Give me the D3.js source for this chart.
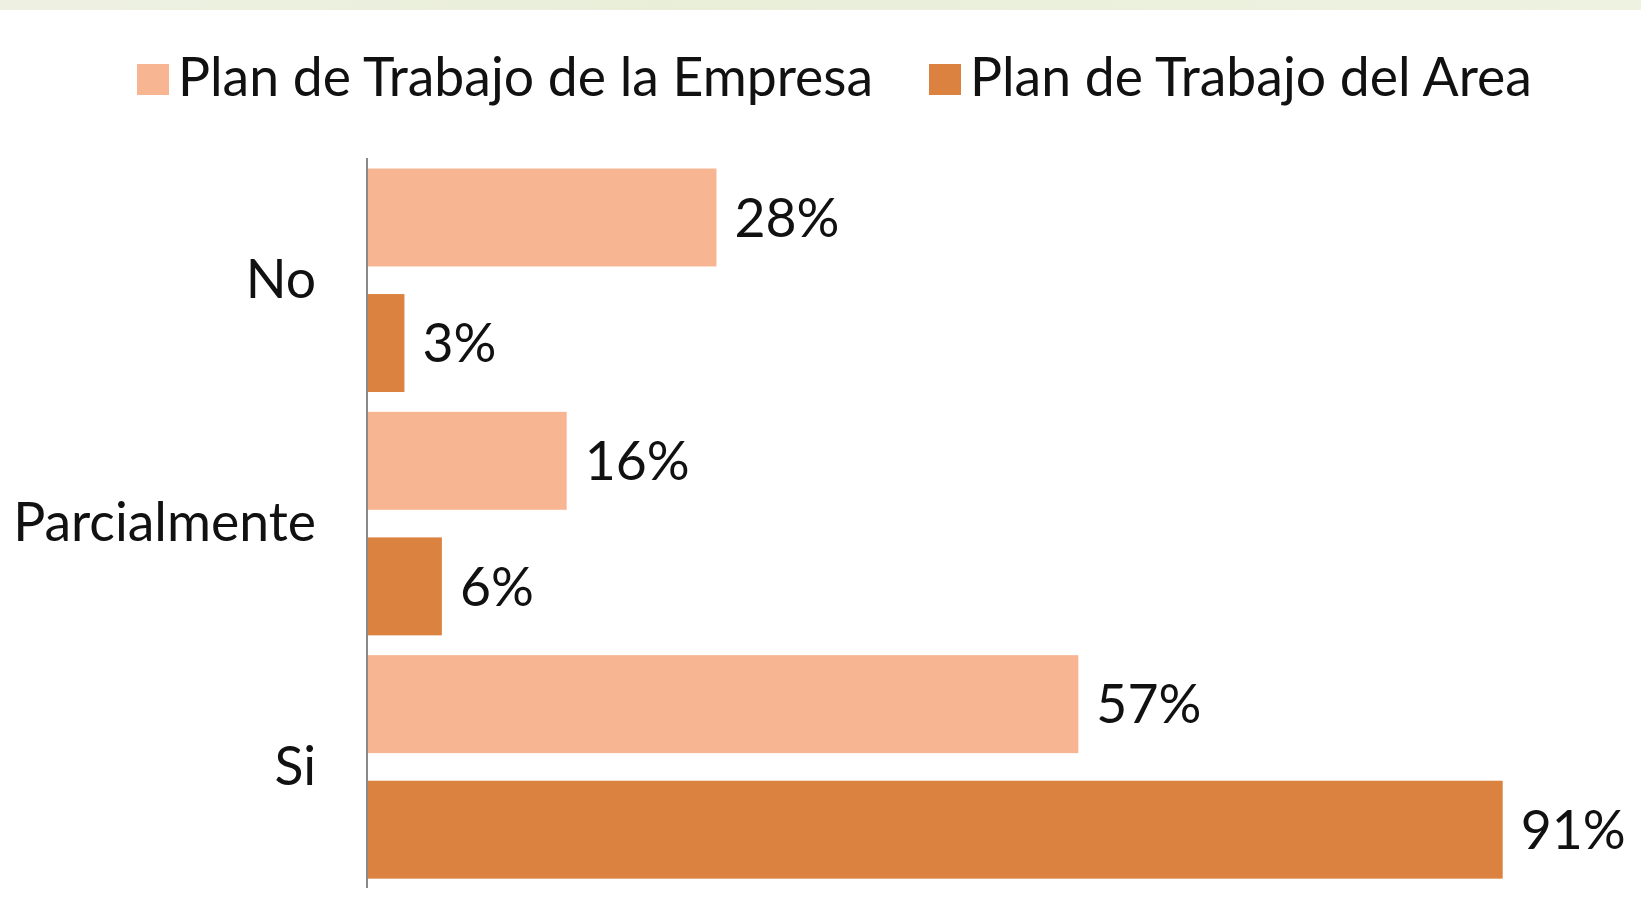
<!DOCTYPE html>
<html>
<head>
<meta charset="utf-8">
<script src="https://cdn.jsdelivr.net/npm/d3@7"></script>
<style>
  html, body { margin: 0; padding: 0; background: #fff; }
  svg { display: block; font-family: Lato, "Open Sans", sans-serif; }
</style>
</head>
<body>
<div id="chart"></div>
<script>
const categories = ['No', 'Parcialmente', 'Si']
const seriesNames = ['Plan de Trabajo de la Empresa', 'Plan de Trabajo del Area']
const empresa = [0.28, 0.16, 0.57]
const area = [0.03, 0.06, 0.91]
const colors = ['#F8B591', '#DB8240']

const width = 1641
const height = 922
const axisX = 367
const fontSize = '53.5px'

const rows = categories.map((c, i) => ({
  cat: c,
  values: [
    { key: seriesNames[0], v: empresa[i] },
    { key: seriesNames[1], v: area[i] }
  ]
}))

const svg = d3.select('#chart').append('svg')
  .attr('width', width)
  .attr('height', height)

// faint banner strip at the top
const grad = svg.append('defs').append('linearGradient')
  .attr('id', 'strip')
grad.append('stop').attr('offset', '0%').attr('stop-color', '#eef1e2')
grad.append('stop').attr('offset', '40%').attr('stop-color', '#e9eed9')
grad.append('stop').attr('offset', '100%').attr('stop-color', '#eef2e1')
svg.append('rect')
  .attr('x', 0).attr('y', 0)
  .attr('width', width).attr('height', 10)
  .style('fill', 'url(#strip)')

const x = d3.scaleLinear().domain([0, 1]).range([axisX, axisX + 1248])
const y0 = d3.scaleBand().domain(categories).range([157, 887])
const y1 = d3.scaleBand().domain(seriesNames).range([11.5, 235]).paddingInner(0.22)
const color = d3.scaleOrdinal().domain(seriesNames).range(colors)

const groups = svg.selectAll('.group')
  .data(rows)
  .enter()
  .append('g')
  .attr('class', 'group')
  .attr('transform', d => `translate(0, ${y0(d.cat)})`)

groups.selectAll('rect')
  .data(d => d.values)
  .enter()
  .append('rect')
  .attr('x', x(0))
  .attr('y', d => y1(d.key))
  .attr('width', d => x(d.v) - x(0))
  .attr('height', y1.bandwidth())
  .style('fill', d => color(d.key))

groups.selectAll('.val')
  .data(d => d.values)
  .enter()
  .append('text')
  .attr('class', 'val')
  .attr('x', d => x(d.v) + 18)
  .attr('y', d => y1(d.key) + y1.bandwidth() / 2)
  .attr('dy', '0.36em')
  .style('font-size', fontSize)
  .style('fill', '#111')
  .text(d => d3.format('.0%')(d.v))

// category axis
const yAxis = d3.axisLeft(y0).tickSize(0).tickPadding(51)
const axisG = svg.append('g')
  .attr('transform', `translate(${axisX}, 0)`)
  .call(yAxis)
axisG.select('.domain').remove()
axisG.selectAll('text')
  .attr('dy', '0.36em')
  .style('font-family', 'Lato, "Open Sans", sans-serif')
  .style('font-size', fontSize)
  .style('fill', '#111')

svg.append('line')
  .attr('x1', axisX).attr('x2', axisX)
  .attr('y1', 158).attr('y2', 888)
  .style('stroke', '#8a8a8a')
  .style('stroke-width', 2)

// legend
const legendX = [137, 929]
const legend = svg.selectAll('.legend')
  .data(seriesNames)
  .enter()
  .append('g')
  .attr('class', 'legend')
  .attr('transform', (d, i) => `translate(${legendX[i]}, 0)`)

legend.append('rect')
  .attr('x', 0).attr('y', 64)
  .attr('width', 32).attr('height', 31)
  .style('fill', d => color(d))

legend.append('text')
  .attr('x', 41)
  .attr('y', 96)
  .style('font-size', fontSize)
  .style('fill', '#111')
  .text(d => d)
</script>
</body>
</html>
